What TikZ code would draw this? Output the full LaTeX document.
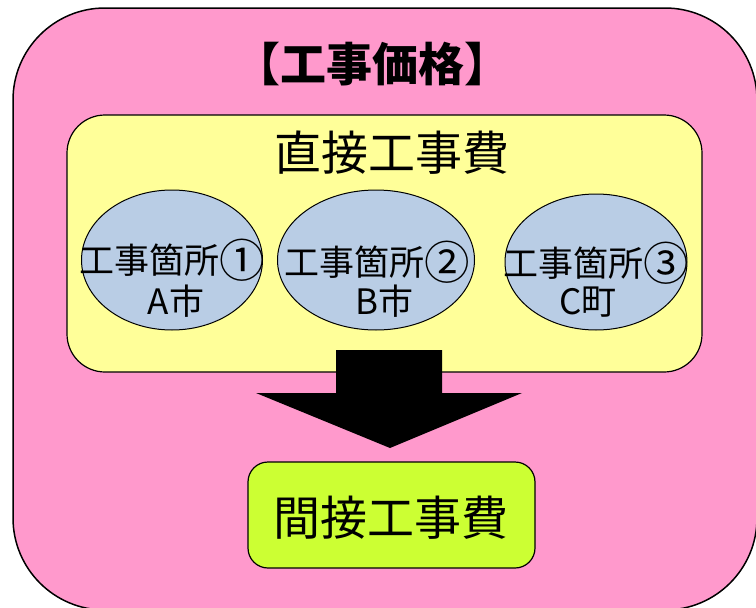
\documentclass[tikz,border=0pt]{standalone}
\usepackage{fontspec}
\usepackage{graphicx}
\setmainfont{Noto Sans CJK JP}
\usetikzlibrary{shapes.geometric}
\definecolor{pinkbg}{HTML}{FF99CC}
\definecolor{yellowbg}{HTML}{FFFF99}
\definecolor{bluebg}{HTML}{B9CDE5}
\definecolor{greenbg}{HTML}{CCFF33}
\newcommand{\circnum}[1]{\raisebox{-0.12em}{\scalebox{1.3}{#1}}}
\tikzset{
  outerbox/.style={draw=black, line width=1.5pt, fill=pinkbg, rounded corners=92pt, minimum width=744pt, minimum height=602pt, inner sep=0pt},
  directbox/.style={draw=black, line width=1.2pt, fill=yellowbg, rounded corners=38pt, minimum width=635pt, minimum height=257pt, inner sep=0pt},
  site/.style={draw=black, line width=1pt, fill=bluebg, ellipse, inner sep=0pt},
  sitetext/.style={font=\fontsize{35}{39}\selectfont, inner sep=0pt},
  indirectbox/.style={draw=black, line width=1.2pt, fill=greenbg, rounded corners=20pt, minimum width=287pt, minimum height=106pt, inner sep=0pt},
}
\begin{document}
\begin{tikzpicture}[x=1pt,y=-1pt]
\clip (0,0) rectangle (756,608);
\node[outerbox] (price) at (385,309) {};
\node[font=\fontsize{46}{48}\selectfont\bfseries, inner sep=0pt] (title) at (372,64) {【工事価格】};
\node[directbox] (direct) at (384.5,243.5) {};
\node[font=\fontsize{47}{50}\selectfont, inner sep=0pt] (dtitle) at (392,153) {直接工事費};
\node[site, minimum width=181pt, minimum height=140pt] (e1) at (172,260) {};
\node[site, minimum width=197pt, minimum height=140pt] (e2) at (376,260) {};
\node[site, minimum width=182pt, minimum height=136pt] (e3) at (596,262) {};
\node[sitetext, anchor=base] (t1a) at (172,273) {工事箇所\circnum{①}};
\node[sitetext] (t1b) at (176,301) {A市};
\node[sitetext, anchor=base] (t2a) at (377,275) {工事箇所\circnum{②}};
\node[sitetext] (t2b) at (384,301) {B市};
\node[sitetext, anchor=base] (t3a) at (596,276) {工事箇所\circnum{③}};
\node[sitetext] (t3b) at (588,302) {C町};
\coordinate (s1) at (336,350);
\coordinate (s2) at (442,350);
\coordinate (s3) at (442,393);
\coordinate (h1) at (522,393);
\coordinate (tip) at (390,448);
\coordinate (h2) at (256,393);
\coordinate (s4) at (336,393);
\fill[black] (s1) -- (s2) -- (s3) -- (h1) -- (tip) -- (h2) -- (s4) -- cycle;
\node[indirectbox] (indirect) at (391.5,515) {};
\node[font=\fontsize{47}{50}\selectfont, inner sep=0pt] (itext) at (391,518) {間接工事費};
\end{tikzpicture}
\end{document}
